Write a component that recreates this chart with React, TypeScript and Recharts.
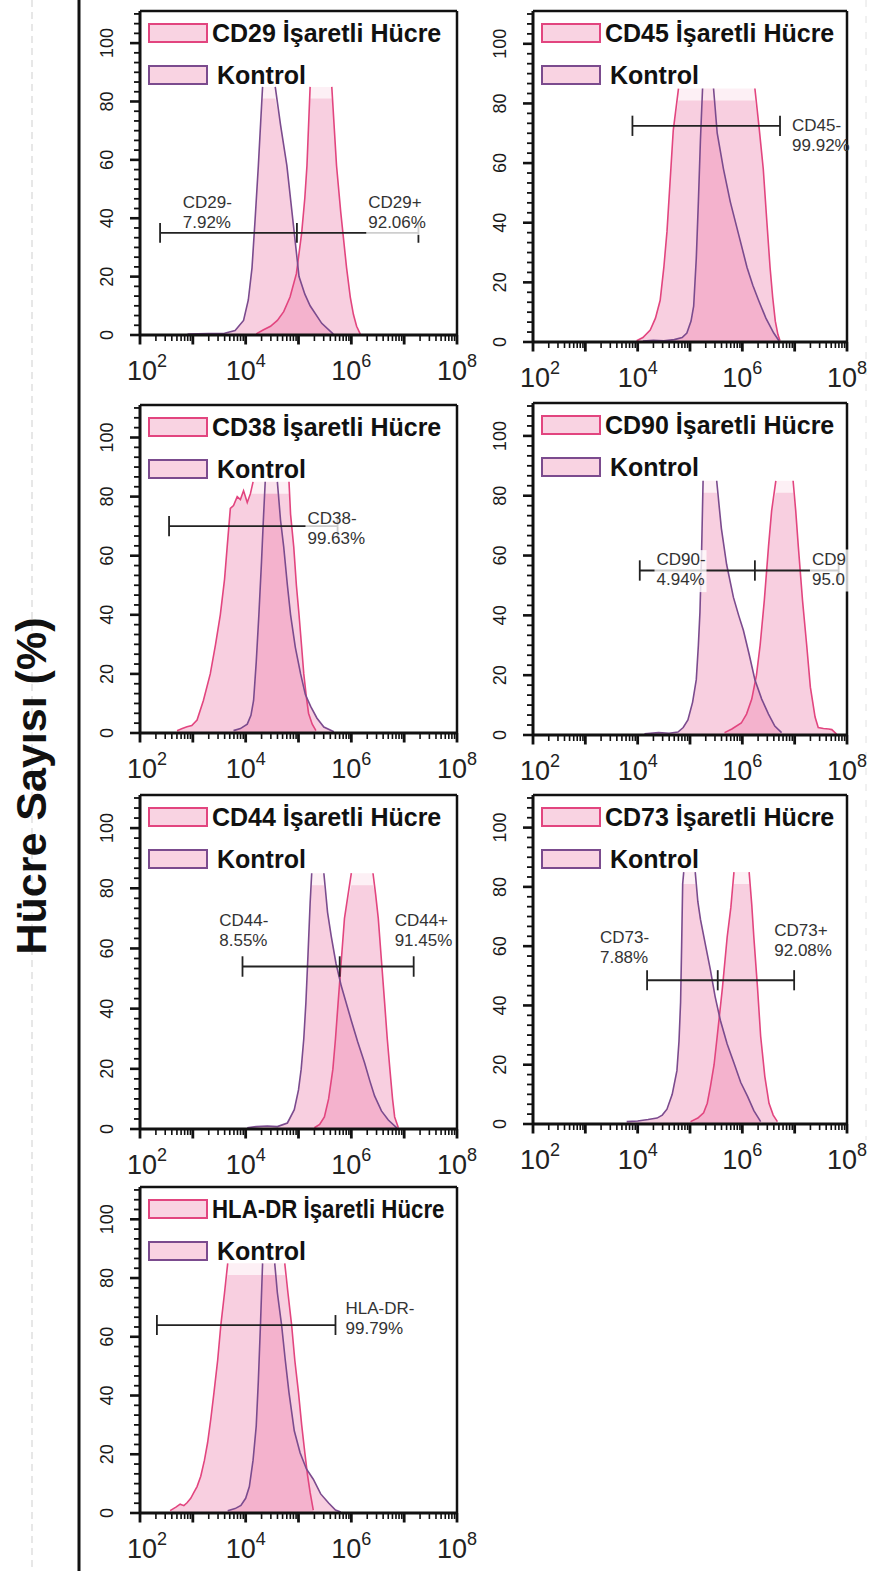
import React from 'react';
import { ComposedChart, Area, Line, XAxis, YAxis, ReferenceLine, ReferenceDot } from 'recharts';

type Pair = [number, number];

// histogram outlines: [log10 fluorescence, cell count %]
const cd29Marked: Pair[] = [[4.2, 0.4], [4.33, 1.7], [4.47, 3], [4.6, 5], [4.72, 8], [4.84, 13], [4.96, 21], [5.06, 35], [5.12, 47], [5.16, 58], [5.22, 85], [5.63, 85], [5.68, 70], [5.72, 58], [5.8, 42], [5.91, 23], [5.98, 13], [6.04, 7], [6.1, 3], [6.17, 0.3]];
const cd29Control: Pair[] = [[2.9, 0.3], [3.3, 0.5], [3.6, 0.6], [3.8, 1.5], [3.96, 5], [4.05, 12], [4.12, 23], [4.18, 40], [4.24, 58], [4.32, 85], [4.56, 85], [4.66, 72], [4.78, 58], [4.92, 35], [5.01, 20], [5.12, 14], [5.22, 10], [5.44, 4], [5.66, 0.3]];

const cd45Marked: Pair[] = [[3.98, 0.4], [4.1, 1.5], [4.24, 4], [4.34, 8], [4.43, 14], [4.5, 25], [4.56, 37], [4.62, 54], [4.68, 71], [4.78, 85], [6.24, 85], [6.32, 72], [6.4, 58], [6.47, 40], [6.53, 25], [6.58, 15], [6.63, 7], [6.68, 2.5], [6.72, 0.4]];
const cd45Control: Pair[] = [[4.1, 0.3], [4.3, 0.6], [4.5, 0.4], [4.7, 0.8], [4.85, 1.5], [4.94, 3], [5.02, 7], [5.07, 12], [5.12, 28], [5.16, 47], [5.2, 68], [5.24, 85], [5.45, 85], [5.52, 70], [5.64, 58], [5.77, 47], [5.93, 36], [6.09, 25], [6.2, 19], [6.31, 14], [6.45, 8], [6.6, 3], [6.7, 0.4]];

const cd38Marked: Pair[] = [[2.7, 0.8], [2.8, 1.5], [2.89, 2.1], [2.98, 2.5], [3.08, 4.4], [3.2, 11], [3.33, 20], [3.43, 30], [3.52, 40], [3.6, 52], [3.65, 63], [3.71, 76], [3.77, 77], [3.84, 80], [3.9, 79], [3.96, 82], [4.03, 78], [4.09, 81], [4.14, 85], [4.82, 85], [4.85, 74], [4.91, 63], [4.96, 50], [5.01, 40], [5.06, 29], [5.1, 20], [5.15, 12], [5.19, 6.7], [5.26, 3], [5.33, 0.8]];
const cd38Control: Pair[] = [[3.77, 0.8], [3.9, 1.5], [4.03, 3], [4.1, 6], [4.15, 11], [4.2, 24], [4.25, 40], [4.3, 58], [4.34, 74], [4.37, 85], [4.6, 85], [4.66, 72], [4.72, 63], [4.79, 50], [4.85, 40], [4.94, 29], [5.04, 20], [5.13, 13], [5.23, 9], [5.35, 5], [5.48, 2], [5.67, 0.4]];

const cd90Marked: Pair[] = [[5.66, 0.8], [5.8, 2], [5.98, 4], [6.08, 7], [6.18, 12], [6.27, 20], [6.34, 30], [6.42, 45], [6.5, 63], [6.56, 75], [6.64, 85], [6.97, 85], [7.02, 75], [7.07, 63], [7.15, 45], [7.23, 30], [7.3, 16], [7.39, 6], [7.45, 2.5], [7.55, 2.2], [7.65, 2], [7.71, 1.8], [7.8, 0.3]];
const cd90Control: Pair[] = [[4.13, 0.4], [4.4, 0.8], [4.6, 0.6], [4.77, 1], [4.87, 2.5], [4.96, 5], [5.05, 11], [5.12, 18.5], [5.16, 30], [5.19, 41], [5.22, 60], [5.25, 85], [5.51, 85], [5.56, 76], [5.6, 69], [5.7, 57], [5.83, 46], [5.93, 40], [6.02, 35], [6.13, 27], [6.24, 18.5], [6.37, 12], [6.5, 7], [6.62, 3], [6.75, 0.8]];

const cd44Marked: Pair[] = [[5.3, 0.4], [5.4, 1.5], [5.49, 4], [5.57, 10], [5.65, 19.8], [5.7, 30], [5.75, 42], [5.81, 56], [5.87, 70], [6.0, 85], [6.41, 85], [6.46, 78], [6.51, 70], [6.57, 56], [6.63, 42], [6.68, 30], [6.73, 19.8], [6.78, 10], [6.82, 4], [6.89, 0.4]];
const cd44Control: Pair[] = [[4.03, 0.4], [4.2, 0.8], [4.41, 1], [4.6, 0.8], [4.79, 2], [4.92, 6.4], [5.0, 13], [5.05, 19.8], [5.1, 30], [5.14, 42], [5.18, 58], [5.22, 75], [5.25, 85], [5.48, 85], [5.55, 72], [5.62, 64], [5.71, 55], [5.81, 47.5], [6.0, 36], [6.12, 29], [6.25, 22], [6.35, 16], [6.44, 11], [6.57, 6], [6.7, 3], [6.86, 0.4]];

const cd73Marked: Pair[] = [[5.01, 0.8], [5.15, 2], [5.26, 3.8], [5.33, 7], [5.39, 12.6], [5.46, 20], [5.52, 29.6], [5.62, 46], [5.71, 63], [5.78, 73], [5.84, 85], [6.13, 85], [6.18, 74], [6.22, 63], [6.29, 46], [6.35, 29.6], [6.43, 16], [6.51, 7], [6.59, 3], [6.67, 0.8]];
const cd73Control: Pair[] = [[3.79, 0.8], [4.0, 1], [4.2, 1.5], [4.37, 2], [4.47, 3], [4.56, 5], [4.66, 10], [4.75, 18], [4.79, 28], [4.82, 41], [4.84, 60], [4.86, 81], [4.88, 85], [5.1, 85], [5.15, 75], [5.2, 69], [5.3, 60], [5.39, 52], [5.48, 43], [5.58, 35], [5.71, 27], [5.84, 20.6], [5.97, 14], [6.1, 9.3], [6.22, 4.5], [6.35, 0.8]];

const hlaMarked: Pair[] = [[2.57, 0.8], [2.68, 2], [2.76, 3], [2.83, 2.5], [2.89, 3.5], [2.96, 5], [3.02, 7], [3.08, 9], [3.15, 12.5], [3.22, 18], [3.28, 24], [3.34, 32], [3.4, 41], [3.47, 52], [3.53, 64], [3.6, 75], [3.66, 85], [4.74, 85], [4.8, 75], [4.87, 64], [4.93, 52], [5.0, 41], [5.06, 30], [5.12, 20.5], [5.17, 13], [5.22, 7], [5.28, 1]];
const hlaControl: Pair[] = [[3.66, 0.8], [3.8, 1.5], [3.91, 2.6], [4.0, 5], [4.07, 9], [4.14, 18], [4.2, 29.6], [4.24, 45], [4.28, 64], [4.32, 85], [4.55, 85], [4.6, 75], [4.68, 64], [4.75, 52], [4.82, 41], [4.92, 28], [5.03, 20.5], [5.15, 15], [5.28, 11.5], [5.42, 6.5], [5.57, 3.4], [5.7, 1], [5.8, 0.3]];

// gate bars: level, left end, right end, optional divider
type Gate = { y: number; from: number; to: number; split?: number };
const cd29Gate: Gate = { y: 35, from: 2.38, to: 7.27, split: 4.97 };
const cd45Gate: Gate = { y: 72.5, from: 3.9, to: 6.72 };
const cd38Gate: Gate = { y: 70, from: 2.55, to: 5.74 };
const cd90Gate: Gate = { y: 55, from: 4.04, to: 7.84, split: 6.24 };
const cd44Gate: Gate = { y: 54, from: 3.94, to: 7.18, split: 5.78 };
const cd73Gate: Gate = { y: 48.5, from: 4.18, to: 6.99, split: 5.53 };
const hlaGate: Gate = { y: 64, from: 2.32, to: 5.7 };

type GateText = { x: number; y: number; lines: string[]; bg?: boolean };
const cd29Labels: GateText[] = [{ x: 2.81, y: 43.5, lines: ['CD29-', '7.92%'] }, { x: 6.32, y: 43.5, lines: ['CD29+', '92.06%'], bg: true }];
const cd45Labels: GateText[] = [{ x: 6.95, y: 70.9, lines: ['CD45-', '99.92%'] }];
const cd38Labels: GateText[] = [{ x: 5.17, y: 70.6, lines: ['CD38-', '99.63%'], bg: true }];
const cd90Labels: GateText[] = [{ x: 4.36, y: 56.8, lines: ['CD90-', '4.94%'], bg: true }, { x: 7.33, y: 57, lines: ['CD9', '95.0'], bg: true }];
const cd44Labels: GateText[] = [{ x: 3.5, y: 67.5, lines: ['CD44-', '8.55%'] }, { x: 6.82, y: 67.5, lines: ['CD44+', '91.45%'] }];
const cd73Labels: GateText[] = [{ x: 3.28, y: 61.1, lines: ['CD73-', '7.88%'] }, { x: 6.61, y: 63.4, lines: ['CD73+', '92.08%'] }];
const hlaLabels: GateText[] = [{ x: 5.89, y: 67.7, lines: ['HLA-DR-', '99.79%'] }];

const DECADES = [2, 3, 4, 5, 6, 7, 8];
const MINOR_STEPS = [2, 3, 4, 5, 6, 7, 8, 9];
const X_TICKS = [...DECADES, ...DECADES.slice(0, -1).flatMap((d) => MINOR_STEPS.map((m) => d + Math.log10(m)))];
// six minor divisions between labelled y ticks
const Y_TICKS = Array.from({ length: 34 }, (_, i) => (i * 20) / 6);
const Y_MAJOR = [0, 20, 40, 60, 80, 100];

const PINK = '#e2457f';
const PURPLE = '#7b4b8e';
const FILL = '#ef86b0';
const INK = '#111';
const FONT = '"Liberation Sans", Arial, sans-serif';
const TOP = 85;
const BAND = 81;

const COLS = [
  { plotLeft: 140, plotW: 317 },
  { plotLeft: 533, plotW: 314 },
];

const panels = [
  { title: 'CD29 İşaretli Hücre', marked: cd29Marked, control: cd29Control, gate: cd29Gate, labels: cd29Labels, col: 0, top: 11, bottom: 335 },
  { title: 'CD45 İşaretli Hücre', marked: cd45Marked, control: cd45Control, gate: cd45Gate, labels: cd45Labels, col: 1, top: 11, bottom: 342 },
  { title: 'CD38 İşaretli Hücre', marked: cd38Marked, control: cd38Control, gate: cd38Gate, labels: cd38Labels, col: 0, top: 405, bottom: 733 },
  { title: 'CD90 İşaretli Hücre', marked: cd90Marked, control: cd90Control, gate: cd90Gate, labels: cd90Labels, col: 1, top: 403, bottom: 735 },
  { title: 'CD44 İşaretli Hücre', marked: cd44Marked, control: cd44Control, gate: cd44Gate, labels: cd44Labels, col: 0, top: 795, bottom: 1129 },
  { title: 'CD73 İşaretli Hücre', marked: cd73Marked, control: cd73Control, gate: cd73Gate, labels: cd73Labels, col: 1, top: 795, bottom: 1124 },
  { title: 'HLA-DR İşaretli Hücre', marked: hlaMarked, control: hlaControl, gate: hlaGate, labels: hlaLabels, col: 0, top: 1187, bottom: 1513, squeeze: 0.89 },
];

const capped = (pts: Pair[]) => pts.map(([x, y]) => ({ x, y: Math.min(y, BAND) }));
const full = (pts: Pair[]) => pts.map(([x, y]) => ({ x, y }));
// outline is open across the clipped peak top
const outline = (pts: Pair[]) => {
  const out: { x: number; y: number | null }[] = [];
  pts.forEach(([x, y], i) => {
    if (i > 0 && y >= TOP && pts[i - 1][1] >= TOP) out.push({ x: (x + pts[i - 1][0]) / 2, y: null });
    out.push({ x, y });
  });
  return out;
};
const isDecade = (v: number) => Math.abs(v - Math.round(v)) < 1e-6;
const isYMajor = (v: number) => Y_MAJOR.some((m) => Math.abs(m - v) < 1e-6);

const XTick = (props: any) => {
  const { x, y, payload } = props;
  const k = Math.round(payload.value);
  if (!isDecade(payload.value) || k % 2 !== 0) return <g />;
  return (
    <text x={x + (k === 2 ? 7 : 0)} y={y + 45} textAnchor="middle" fontSize={27} fill="#222" fontFamily={FONT}>
      10<tspan dy={-13} fontSize={18}>{k}</tspan>
    </text>
  );
};

const YTick = (props: any) => {
  const { x, y, payload } = props;
  if (!isYMajor(payload.value)) return <g />;
  return (
    <text transform={`translate(${x - 27},${y}) rotate(-90)`} textAnchor="middle" fontSize={18} fill="#1a1a1a" fontFamily={FONT}>
      {Math.round(payload.value)}
    </text>
  );
};

const GateLabel = ({ cx, cy, lines, bg }: { cx: number; cy: number; lines: string[]; bg?: boolean }) => {
  const w = Math.max(...lines.map((s) => s.length)) * 9.6 + 4;
  return (
    <g>
      {bg && <rect x={cx - 2} y={cy - 15} width={w} height={42} fill="#fff" fillOpacity={0.78} />}
      {lines.map((s, i) => (
        <text key={i} x={cx} y={cy + i * 20} fontSize={17} fill="#333" fontFamily={FONT}>
          {s}
        </text>
      ))}
    </g>
  );
};

const Swatch = ({ border }: { border: string }) => (
  <div style={{ width: 60, height: 20, boxSizing: 'border-box', border: `2px solid ${border}`, background: '#f9d3e2' }} />
);

function Histogram({ p }: { p: (typeof panels)[number] }) {
  const col = COLS[p.col];
  const plotH = p.bottom - p.top;
  const pxPerDecade = col.plotW / 6;
  const pxPerUnit = plotH / 111;
  const series = [
    { name: 'marked', data: p.marked, stroke: PINK },
    { name: 'control', data: p.control, stroke: PURPLE },
  ];
  const g = p.gate;
  const caps = [g.from, g.to, g.split].filter((v): v is number => v !== undefined);
  return (
    <>
      <div style={{ position: 'absolute', left: col.plotLeft - 60, top: p.top - 5 }}>
        <ComposedChart width={60 + col.plotW + 25} height={5 + plotH + 50} margin={{ top: 5, right: 25, bottom: 0, left: 0 }}>
          <XAxis
            type="number"
            dataKey="x"
            domain={[2, 8]}
            ticks={X_TICKS}
            interval={0}
            height={50}
            tickSize={0}
            tickMargin={0}
            tickLine={false}
            tick={(t: any) => <XTick {...t} />}
            axisLine={{ stroke: INK, strokeWidth: 3 }}
          />
          <YAxis
            type="number"
            domain={[0, 111]}
            ticks={Y_TICKS}
            interval={0}
            width={60}
            tickSize={0}
            tickMargin={0}
            tickLine={false}
            tick={(t: any) => <YTick {...t} />}
            axisLine={{ stroke: INK, strokeWidth: 3 }}
          />
          {series.map((s) => (
            <Area key={s.name + '-faint'} data={full(s.data)} dataKey="y" type="linear" stroke="none" fill={FILL} fillOpacity={0.12} isAnimationActive={false} />
          ))}
          {series.map((s) => (
            <Area key={s.name + '-fill'} data={capped(s.data)} dataKey="y" type="linear" stroke="none" fill={FILL} fillOpacity={0.3} isAnimationActive={false} />
          ))}
          {series.map((s) => (
            <Line key={s.name + '-line'} data={outline(s.data)} dataKey="y" type="linear" stroke={s.stroke} strokeWidth={1.6} dot={false} connectNulls={false} isAnimationActive={false} />
          ))}
          {/* tick marks, drawn through the chart scales */}
          {X_TICKS.map((t) => (
            <ReferenceLine
              key={'xt' + t}
              segment={[{ x: t, y: 0 }, { x: t, y: -(isDecade(t) ? 9.5 : 6) / pxPerUnit }]}
              stroke={INK}
              strokeWidth={isDecade(t) ? 2.8 : 1.6}
              ifOverflow="visible"
            />
          ))}
          {Y_TICKS.map((v) => (
            <ReferenceLine
              key={'yt' + v}
              segment={[{ x: 2, y: v }, { x: 2 - (isYMajor(v) ? 10 : 6) / pxPerDecade, y: v }]}
              stroke={INK}
              strokeWidth={isYMajor(v) ? 2.6 : 1.8}
              ifOverflow="visible"
            />
          ))}
          <ReferenceLine y={111} stroke={INK} strokeWidth={2.5} ifOverflow="visible" />
          <ReferenceLine x={8} stroke={INK} strokeWidth={2.5} ifOverflow="visible" />
          <ReferenceLine segment={[{ x: g.from, y: g.y }, { x: g.to, y: g.y }]} stroke="#222" strokeWidth={1.8} ifOverflow="visible" />
          {caps.map((c) => (
            <ReferenceLine key={c} segment={[{ x: c, y: g.y - 3.4 }, { x: c, y: g.y + 3.4 }]} stroke="#222" strokeWidth={1.8} ifOverflow="visible" />
          ))}
          {p.labels.map((l, i) => (
            <ReferenceDot
              key={i}
              x={l.x}
              y={l.y}
              r={0}
              ifOverflow="visible"
              shape={(sp: any) => <GateLabel cx={sp.cx} cy={sp.cy} lines={l.lines} bg={l.bg} />}
            />
          ))}
        </ComposedChart>
      </div>
      <div style={{ position: 'absolute', left: col.plotLeft + 8, top: p.top + 12, fontFamily: FONT, fontWeight: 'bold', fontSize: 25, color: '#111' }}>
        <div style={{ display: 'flex', alignItems: 'center', height: 20, whiteSpace: 'nowrap' }}>
          <Swatch border={PINK} />
          <span style={{ marginLeft: 4, display: 'inline-block', transform: `scaleX(${p.squeeze ?? 1})`, transformOrigin: 'left center' }}>{p.title}</span>
        </div>
        <div style={{ display: 'flex', alignItems: 'center', height: 20, marginTop: 22, whiteSpace: 'nowrap' }}>
          <Swatch border={PURPLE} />
          <span style={{ marginLeft: 9 }}>Kontrol</span>
        </div>
      </div>
    </>
  );
}

export default function App() {
  return (
    <div style={{ position: 'absolute', left: 0, top: 0, width: 872, height: 1571, background: '#fff', overflow: 'hidden' }}>
      <svg width={872} height={1571} style={{ position: 'absolute', left: 0, top: 0 }}>
        <line x1={32} x2={32} y1={0} y2={1571} stroke="#cfcfcf" strokeWidth={1} strokeDasharray="7 5" />
        <line x1={866} x2={866} y1={0} y2={1140} stroke="#e2e2e2" strokeWidth={1} strokeDasharray="7 9" />
        <line x1={79} x2={79} y1={0} y2={1571} stroke={INK} strokeWidth={3} />
        <text transform="translate(46,786) rotate(-90)" textAnchor="middle" fontSize={43} fontWeight="bold" fill="#111" fontFamily={FONT}>
          Hücre Sayısı (%)
        </text>
      </svg>
      {panels.map((p) => (
        <Histogram key={p.title} p={p} />
      ))}
    </div>
  );
}
